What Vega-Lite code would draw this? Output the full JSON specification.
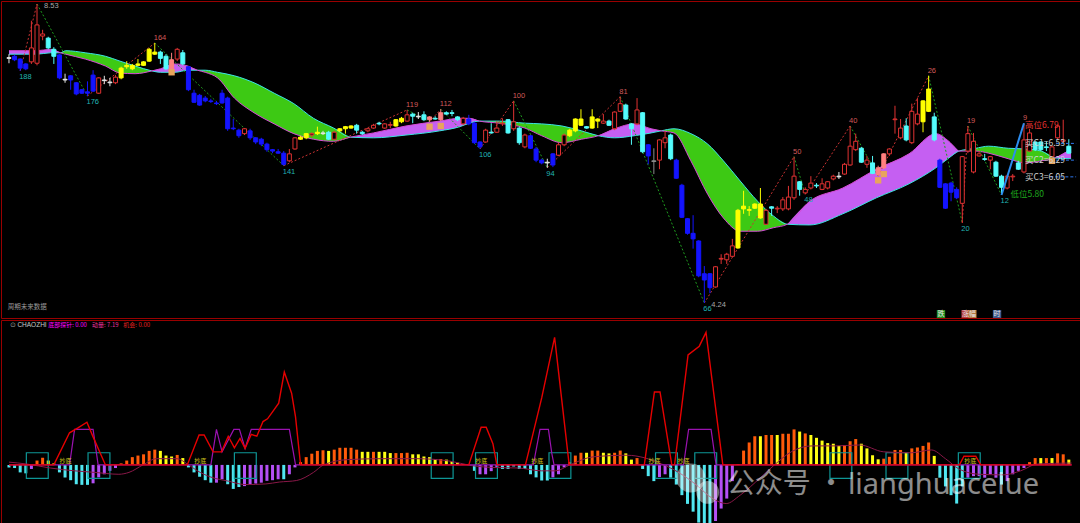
{
"$schema": "https://vega.github.io/schema/vega-lite/v6.json",
"background": "#000000",
"padding": 0,
"spacing": 0,
"config": {"view": {"stroke": "#990000", "strokeWidth": 1}},
"datasets": {
"one": [{}],
"candles": [
{"k":0,"o":7.76,"h":7.81,"l":7.68,"c":7.75,"t":"wh"},{"k":1,"o":7.78,"h":7.8,"l":7.71,"c":7.73,"t":"bl"},{"k":2,"o":7.74,"h":7.75,"l":7.57,"c":7.61,"t":"bl"},{"k":3,"o":7.67,"h":7.68,"l":7.58,"c":7.6,"t":"bl"},{"k":4,"o":7.7,"h":8.29,"l":7.67,"c":7.9,"t":"up"},{"k":5,"o":7.68,"h":8.53,"l":7.65,"c":8.23,"t":"up"},{"k":6,"o":8.07,"h":8.16,"l":8.01,"c":8.1,"t":"up"},{"k":7,"o":8.04,"h":8.06,"l":7.88,"c":7.9,"t":"cy"},{"k":8,"o":7.88,"h":7.91,"l":7.67,"c":7.78,"t":"cy"},{"k":9,"o":7.8,"h":7.81,"l":7.45,"c":7.47,"t":"bl"},
{"k":10,"o":7.45,"h":7.53,"l":7.4,"c":7.44,"t":"wh"},{"k":11,"o":7.5,"h":7.51,"l":7.3,"c":7.44,"t":"bl"},{"k":12,"o":7.4,"h":7.41,"l":7.22,"c":7.24,"t":"bl"},{"k":13,"o":7.3,"h":7.31,"l":7.24,"c":7.25,"t":"bl"},{"k":14,"o":7.27,"h":7.42,"l":7.21,"c":7.25,"t":"bl"},{"k":15,"o":7.51,"h":7.58,"l":7.27,"c":7.28,"t":"bl"},{"k":16,"o":7.25,"h":7.48,"l":7.24,"c":7.47,"t":"up"},{"k":17,"o":7.44,"h":7.5,"l":7.38,"c":7.43,"t":"wh"},{"k":18,"o":7.41,"h":7.47,"l":7.35,"c":7.4,"t":"wh"},{"k":19,"o":7.4,"h":7.51,"l":7.38,"c":7.48,"t":"up"},
{"k":20,"o":7.47,"h":7.63,"l":7.45,"c":7.61,"t":"ye"},{"k":21,"o":7.63,"h":7.71,"l":7.6,"c":7.65,"t":"ye"},{"k":22,"o":7.6,"h":7.67,"l":7.58,"c":7.65,"t":"ye"},{"k":23,"o":7.65,"h":7.74,"l":7.64,"c":7.67,"t":"ye"},{"k":24,"o":7.65,"h":7.71,"l":7.64,"c":7.7,"t":"ye"},{"k":25,"o":7.71,"h":7.9,"l":7.7,"c":7.88,"t":"ye"},{"k":26,"o":7.81,"h":7.97,"l":7.8,"c":7.84,"t":"ye"},{"k":27,"o":7.84,"h":7.86,"l":7.67,"c":7.75,"t":"cy"},{"k":28,"o":7.78,"h":7.81,"l":7.58,"c":7.6,"t":"cy"},{"k":29,"o":7.6,"h":7.83,"l":7.57,"c":7.73,"t":"pk"},
{"k":30,"o":7.74,"h":7.9,"l":7.71,"c":7.88,"t":"up"},{"k":31,"o":7.83,"h":7.87,"l":7.65,"c":7.67,"t":"cy"},{"k":32,"o":7.63,"h":7.64,"l":7.28,"c":7.3,"t":"bl"},{"k":33,"o":7.25,"h":7.3,"l":7.11,"c":7.12,"t":"bl"},{"k":34,"o":7.22,"h":7.24,"l":7.07,"c":7.08,"t":"bl"},{"k":35,"o":7.18,"h":7.21,"l":7.12,"c":7.14,"t":"bl"},{"k":36,"o":7.14,"h":7.17,"l":7.11,"c":7.13,"t":"bl"},{"k":37,"o":7.11,"h":7.14,"l":7.08,"c":7.1,"t":"bl"},{"k":38,"o":7.25,"h":7.3,"l":7.1,"c":7.11,"t":"bl"},{"k":39,"o":7.18,"h":7.2,"l":6.71,"c":6.74,"t":"bl"},
{"k":40,"o":6.75,"h":6.88,"l":6.72,"c":6.74,"t":"bl"},{"k":41,"o":6.72,"h":6.74,"l":6.61,"c":6.64,"t":"bl"},{"k":42,"o":6.67,"h":6.75,"l":6.65,"c":6.74,"t":"up"},{"k":43,"o":6.71,"h":6.74,"l":6.58,"c":6.61,"t":"bl"},{"k":44,"o":6.61,"h":6.62,"l":6.52,"c":6.55,"t":"bl"},{"k":45,"o":6.59,"h":6.61,"l":6.49,"c":6.52,"t":"bl"},{"k":46,"o":6.52,"h":6.54,"l":6.41,"c":6.44,"t":"bl"},{"k":47,"o":6.44,"h":6.45,"l":6.39,"c":6.42,"t":"bl"},{"k":48,"o":6.41,"h":6.45,"l":6.38,"c":6.39,"t":"bl"},{"k":49,"o":6.39,"h":6.42,"l":6.21,"c":6.23,"t":"bl"},
{"k":50,"o":6.28,"h":6.45,"l":6.26,"c":6.38,"t":"up"},{"k":51,"o":6.45,"h":6.62,"l":6.44,"c":6.61,"t":"up"},{"k":52,"o":6.59,"h":6.64,"l":6.58,"c":6.62,"t":"ye"},{"k":53,"o":6.61,"h":6.68,"l":6.59,"c":6.67,"t":"ye"},{"k":54,"o":6.65,"h":6.69,"l":6.62,"c":6.67,"t":"up"},{"k":55,"o":6.67,"h":6.77,"l":6.65,"c":6.69,"t":"ye"},{"k":56,"o":6.68,"h":6.71,"l":6.65,"c":6.67,"t":"wh"},{"k":57,"o":6.69,"h":6.71,"l":6.58,"c":6.59,"t":"cy"},{"k":58,"o":6.59,"h":6.71,"l":6.58,"c":6.69,"t":"up"},{"k":59,"o":6.71,"h":6.75,"l":6.69,"c":6.74,"t":"ye"},
{"k":60,"o":6.74,"h":6.78,"l":6.67,"c":6.77,"t":"ye"},{"k":61,"o":6.75,"h":6.79,"l":6.74,"c":6.78,"t":"ye"},{"k":62,"o":6.79,"h":6.81,"l":6.67,"c":6.72,"t":"cy"},{"k":63,"o":6.69,"h":6.71,"l":6.65,"c":6.67,"t":"cy"},{"k":64,"o":6.71,"h":6.75,"l":6.69,"c":6.74,"t":"up"},{"k":65,"o":6.75,"h":6.81,"l":6.74,"c":6.79,"t":"up"},{"k":66,"o":6.82,"h":6.84,"l":6.79,"c":6.81,"t":"cy"},{"k":67,"o":6.75,"h":6.82,"l":6.74,"c":6.81,"t":"up"},{"k":68,"o":6.79,"h":6.84,"l":6.75,"c":6.8,"t":"up"},{"k":69,"o":6.78,"h":6.88,"l":6.77,"c":6.87,"t":"ye"},
{"k":70,"o":6.84,"h":6.91,"l":6.82,"c":6.89,"t":"ye"},{"k":71,"o":6.85,"h":7.01,"l":6.84,"c":6.94,"t":"up"},{"k":72,"o":6.95,"h":6.97,"l":6.82,"c":6.92,"t":"cy"},{"k":73,"o":6.92,"h":6.98,"l":6.88,"c":6.91,"t":"wh"},{"k":74,"o":6.94,"h":6.99,"l":6.85,"c":6.87,"t":"cy"},{"k":75,"o":6.87,"h":6.92,"l":6.84,"c":6.91,"t":"pk"},{"k":76,"o":6.89,"h":6.92,"l":6.87,"c":6.88,"t":"cy"},{"k":77,"o":6.87,"h":7.02,"l":6.85,"c":6.97,"t":"pk"},{"k":78,"o":6.97,"h":6.99,"l":6.94,"c":6.95,"t":"cy"},{"k":79,"o":6.97,"h":7.01,"l":6.92,"c":6.96,"t":"cy"},
{"k":80,"o":6.91,"h":6.92,"l":6.85,"c":6.87,"t":"cy"},{"k":81,"o":6.81,"h":6.91,"l":6.79,"c":6.89,"t":"up"},{"k":82,"o":6.88,"h":6.94,"l":6.79,"c":6.81,"t":"bl"},{"k":83,"o":6.82,"h":6.84,"l":6.52,"c":6.54,"t":"bl"},{"k":84,"o":6.55,"h":6.56,"l":6.45,"c":6.48,"t":"bl"},{"k":85,"o":6.55,"h":6.74,"l":6.54,"c":6.72,"t":"up"},{"k":86,"o":6.69,"h":6.82,"l":6.67,"c":6.68,"t":"cy"},{"k":87,"o":6.69,"h":6.85,"l":6.68,"c":6.75,"t":"up"},{"k":88,"o":6.81,"h":6.89,"l":6.78,"c":6.82,"t":"up"},{"k":89,"o":6.87,"h":6.88,"l":6.67,"c":6.68,"t":"cy"},
{"k":90,"o":6.74,"h":7.14,"l":6.71,"c":6.84,"t":"up"},{"k":91,"o":6.75,"h":6.77,"l":6.51,"c":6.54,"t":"cy"},{"k":92,"o":6.48,"h":6.67,"l":6.46,"c":6.65,"t":"up"},{"k":93,"o":6.64,"h":6.65,"l":6.45,"c":6.46,"t":"bl"},{"k":94,"o":6.45,"h":6.48,"l":6.26,"c":6.29,"t":"bl"},{"k":95,"o":6.29,"h":6.31,"l":6.23,"c":6.25,"t":"bl"},{"k":96,"o":6.26,"h":6.31,"l":6.18,"c":6.25,"t":"wh"},{"k":97,"o":6.38,"h":6.39,"l":6.19,"c":6.22,"t":"bl"},{"k":98,"o":6.36,"h":6.54,"l":6.35,"c":6.51,"t":"up"},{"k":99,"o":6.51,"h":6.67,"l":6.49,"c":6.65,"t":"up"},
{"k":100,"o":6.64,"h":6.74,"l":6.62,"c":6.72,"t":"ye"},{"k":101,"o":6.71,"h":6.89,"l":6.69,"c":6.88,"t":"ye"},{"k":102,"o":6.79,"h":7.02,"l":6.78,"c":6.88,"t":"ye"},{"k":103,"o":6.77,"h":6.78,"l":6.74,"c":6.75,"t":"cy"},{"k":104,"o":6.75,"h":7.02,"l":6.74,"c":6.91,"t":"ye"},{"k":105,"o":6.85,"h":6.89,"l":6.75,"c":6.88,"t":"ye"},{"k":106,"o":6.82,"h":6.95,"l":6.81,"c":6.85,"t":"up"},{"k":107,"o":6.85,"h":6.87,"l":6.78,"c":6.79,"t":"cy"},{"k":108,"o":6.74,"h":6.99,"l":6.72,"c":6.98,"t":"up"},{"k":109,"o":6.99,"h":7.2,"l":6.98,"c":7.1,"t":"up"},
{"k":110,"o":7.08,"h":7.1,"l":6.87,"c":6.88,"t":"cy"},{"k":111,"o":6.81,"h":6.82,"l":6.51,"c":6.74,"t":"cy"},{"k":112,"o":6.81,"h":7.18,"l":6.79,"c":7.01,"t":"up"},{"k":113,"o":6.97,"h":6.98,"l":6.39,"c":6.41,"t":"cy"},{"k":114,"o":6.51,"h":6.52,"l":6.23,"c":6.35,"t":"bl"},{"k":115,"o":6.28,"h":6.46,"l":6.09,"c":6.27,"t":"gr"},{"k":116,"o":6.29,"h":6.59,"l":6.16,"c":6.58,"t":"up"},{"k":117,"o":6.54,"h":6.71,"l":6.46,"c":6.61,"t":"up"},{"k":118,"o":6.65,"h":6.67,"l":6.29,"c":6.31,"t":"cy"},{"k":119,"o":6.29,"h":6.31,"l":6.02,"c":6.03,"t":"bl"},
{"k":120,"o":5.93,"h":5.95,"l":5.46,"c":5.47,"t":"bl"},{"k":121,"o":5.45,"h":5.46,"l":5.22,"c":5.24,"t":"bl"},{"k":122,"o":5.24,"h":5.5,"l":5.02,"c":5.16,"t":"bl"},{"k":123,"o":5.13,"h":5.14,"l":4.61,"c":4.63,"t":"bl"},{"k":124,"o":4.66,"h":4.77,"l":4.24,"c":4.57,"t":"bl"},{"k":125,"o":4.66,"h":4.67,"l":4.38,"c":4.46,"t":"bl"},{"k":126,"o":4.47,"h":4.77,"l":4.46,"c":4.76,"t":"up"},{"k":127,"o":4.87,"h":4.94,"l":4.8,"c":4.88,"t":"up"},{"k":128,"o":4.86,"h":4.96,"l":4.8,"c":4.94,"t":"up"},{"k":129,"o":4.91,"h":5.16,"l":4.9,"c":5.06,"t":"up"},
{"k":130,"o":5.03,"h":5.59,"l":5.02,"c":5.57,"t":"ye"},{"k":131,"o":5.59,"h":5.85,"l":5.52,"c":5.63,"t":"ye"},{"k":132,"o":5.57,"h":5.63,"l":5.49,"c":5.58,"t":"ye"},{"k":133,"o":5.6,"h":5.67,"l":5.59,"c":5.66,"t":"ye"},{"k":134,"o":5.46,"h":5.89,"l":5.45,"c":5.66,"t":"ye"},{"k":135,"o":5.37,"h":5.59,"l":5.36,"c":5.57,"t":"up"},{"k":136,"o":5.62,"h":5.63,"l":5.49,"c":5.6,"t":"cy"},{"k":137,"o":5.59,"h":5.63,"l":5.53,"c":5.6,"t":"up"},{"k":138,"o":5.59,"h":5.76,"l":5.56,"c":5.72,"t":"up"},{"k":139,"o":5.59,"h":5.92,"l":5.57,"c":5.76,"t":"up"},
{"k":140,"o":5.75,"h":6.34,"l":5.72,"c":6.06,"t":"up"},{"k":141,"o":5.98,"h":5.99,"l":5.78,"c":5.87,"t":"cy"},{"k":142,"o":5.82,"h":5.9,"l":5.8,"c":5.87,"t":"up"},{"k":143,"o":5.89,"h":6.06,"l":5.87,"c":5.96,"t":"up"},{"k":144,"o":5.93,"h":5.96,"l":5.89,"c":5.92,"t":"cy"},{"k":145,"o":5.87,"h":6.03,"l":5.86,"c":5.95,"t":"up"},{"k":146,"o":5.89,"h":5.99,"l":5.87,"c":5.98,"t":"up"},{"k":147,"o":6.02,"h":6.08,"l":6.0,"c":6.06,"t":"up"},{"k":148,"o":6.06,"h":6.12,"l":6.02,"c":6.05,"t":"wh"},{"k":149,"o":6.09,"h":6.25,"l":6.08,"c":6.23,"t":"up"},
{"k":150,"o":6.22,"h":6.78,"l":6.21,"c":6.49,"t":"up"},{"k":151,"o":6.44,"h":6.67,"l":6.42,"c":6.56,"t":"up"},{"k":152,"o":6.46,"h":6.48,"l":6.25,"c":6.26,"t":"cy"},{"k":153,"o":6.23,"h":6.35,"l":6.18,"c":6.29,"t":"up"},{"k":154,"o":6.25,"h":6.35,"l":6.09,"c":6.1,"t":"cy"},{"k":155,"o":6.08,"h":6.21,"l":6.06,"c":6.18,"t":"pk"},{"k":156,"o":6.18,"h":6.39,"l":6.16,"c":6.38,"t":"pk"},{"k":157,"o":6.38,"h":6.46,"l":6.35,"c":6.45,"t":"up"},{"k":158,"o":6.87,"h":7.07,"l":6.67,"c":6.88,"t":"up"},{"k":159,"o":6.61,"h":6.88,"l":6.59,"c":6.75,"t":"up"},
{"k":160,"o":6.78,"h":6.89,"l":6.56,"c":6.58,"t":"cy"},{"k":161,"o":6.54,"h":7.1,"l":6.52,"c":6.99,"t":"up"},{"k":162,"o":6.81,"h":7.18,"l":6.79,"c":6.95,"t":"up"},{"k":163,"o":6.84,"h":7.15,"l":6.69,"c":7.14,"t":"ye"},{"k":164,"o":6.99,"h":7.5,"l":6.98,"c":7.31,"t":"ye"},{"k":165,"o":6.91,"h":6.97,"l":6.56,"c":6.58,"t":"cy"},{"k":166,"o":6.29,"h":6.31,"l":5.89,"c":5.9,"t":"bl"},{"k":167,"o":5.95,"h":5.96,"l":5.59,"c":5.6,"t":"bl"},{"k":168,"o":5.96,"h":5.98,"l":5.7,"c":5.83,"t":"bl"},{"k":169,"o":5.87,"h":5.9,"l":5.73,"c":5.75,"t":"bl"},
{"k":170,"o":5.67,"h":6.35,"l":5.39,"c":6.34,"t":"up"},{"k":171,"o":6.42,"h":6.78,"l":6.39,"c":6.67,"t":"up"},{"k":172,"o":6.12,"h":6.68,"l":6.1,"c":6.56,"t":"up"},{"k":173,"o":6.35,"h":6.42,"l":6.34,"c":6.38,"t":"up"},{"k":174,"o":6.31,"h":6.38,"l":6.28,"c":6.3,"t":"cy"},{"k":175,"o":6.29,"h":6.35,"l":6.16,"c":6.34,"t":"up"},{"k":176,"o":6.26,"h":6.28,"l":6.05,"c":6.06,"t":"cy"},{"k":177,"o":6.06,"h":6.08,"l":5.79,"c":5.9,"t":"cy"},{"k":178,"o":5.89,"h":6.08,"l":5.87,"c":6.06,"t":"up"},{"k":179,"o":6.05,"h":6.09,"l":5.99,"c":6.06,"t":"up"},
{"k":180,"o":6.25,"h":6.28,"l":6.15,"c":6.16,"t":"cy"},{"k":181,"o":6.12,"h":6.82,"l":6.1,"c":6.58,"t":"up"},{"k":182,"o":6.42,"h":6.74,"l":6.41,"c":6.68,"t":"up"},{"k":183,"o":6.55,"h":6.56,"l":6.42,"c":6.44,"t":"cy"},{"k":184,"o":6.55,"h":6.56,"l":6.42,"c":6.44,"t":"cy"},{"k":185,"o":6.48,"h":6.56,"l":6.42,"c":6.47,"t":"cy"},{"k":186,"o":6.34,"h":6.49,"l":6.25,"c":6.48,"t":"up"},{"k":187,"o":6.61,"h":6.79,"l":6.59,"c":6.78,"t":"up"},{"k":188,"o":6.56,"h":6.87,"l":6.55,"c":6.58,"t":"up"},{"k":189,"o":6.49,"h":6.59,"l":6.38,"c":6.39,"t":"cy"}
],
"band": [
{"k":0,"a":7.81,"b":7.86,"s":1,"c":"p"},{"k":5,"a":7.81,"b":7.86,"s":1,"c":"p"},{"k":7.4,"a":7.83,"b":7.88,"s":1,"c":"p"},{"k":9.2,"a":7.83,"b":7.83,"s":1,"c":"p"},
{"k":9.2,"a":7.83,"b":7.83,"s":2,"c":"g","dup":1},{"k":10.1,"a":7.86,"b":7.81,"s":2,"c":"g"},{"k":13.6,"a":7.83,"b":7.74,"s":2,"c":"g"},{"k":17.2,"a":7.78,"b":7.64,"s":2,"c":"g"},{"k":19.8,"a":7.71,"b":7.54,"s":2,"c":"g"},{"k":22.5,"a":7.64,"b":7.53,"s":2,"c":"g"},{"k":25.5,"a":7.57,"b":7.57,"s":2,"c":"g"},
{"k":25.5,"a":7.57,"b":7.57,"s":3,"c":"p","dup":1},{"k":27,"a":7.55,"b":7.6,"s":3,"c":"p"},{"k":29.6,"a":7.55,"b":7.67,"s":3,"c":"p"},{"k":31.9,"a":7.58,"b":7.64,"s":3,"c":"p"},{"k":33.6,"a":7.58,"b":7.58,"s":3,"c":"p"},
{"k":33.6,"a":7.58,"b":7.58,"s":4,"c":"g","dup":1},{"k":35,"a":7.58,"b":7.55,"s":4,"c":"g"},{"k":37.2,"a":7.55,"b":7.47,"s":4,"c":"g"},{"k":40.2,"a":7.5,"b":7.18,"s":4,"c":"g"},{"k":43.7,"a":7.4,"b":6.97,"s":4,"c":"g"},{"k":47.3,"a":7.25,"b":6.81,"s":4,"c":"g"},{"k":50.8,"a":7.1,"b":6.67,"s":4,"c":"g"},{"k":54.3,"a":6.89,"b":6.59,"s":4,"c":"g"},{"k":57.9,"a":6.75,"b":6.56,"s":4,"c":"g"},{"k":60.9,"a":6.62,"b":6.62,"s":4,"c":"g"},
{"k":60.9,"a":6.62,"b":6.62,"s":5,"c":"p","dup":1},{"k":65,"a":6.61,"b":6.68,"s":5,"c":"p"},{"k":70.8,"a":6.65,"b":6.78,"s":5,"c":"p"},{"k":76.8,"a":6.71,"b":6.85,"s":5,"c":"p"},{"k":80.4,"a":6.77,"b":6.89,"s":5,"c":"p"},{"k":82.1,"a":6.82,"b":6.89,"s":5,"c":"p"},{"k":83.9,"a":6.85,"b":6.85,"s":5,"c":"p"},
{"k":83.9,"a":6.85,"b":6.85,"s":6,"c":"g","dup":1},{"k":87.4,"a":6.85,"b":6.82,"s":6,"c":"g"},{"k":92,"a":6.82,"b":6.75,"s":6,"c":"g"},{"k":95,"a":6.81,"b":6.64,"s":6,"c":"g"},{"k":98.6,"a":6.78,"b":6.54,"s":6,"c":"g"},{"k":102.1,"a":6.71,"b":6.59,"s":6,"c":"g"},{"k":105.1,"a":6.64,"b":6.64,"s":6,"c":"g"},
{"k":105.1,"a":6.64,"b":6.64,"s":7,"c":"p","dup":1},{"k":108,"a":6.61,"b":6.74,"s":7,"c":"p"},{"k":111.5,"a":6.64,"b":6.81,"s":7,"c":"p"},{"k":114.5,"a":6.68,"b":6.74,"s":7,"c":"p"},{"k":116.3,"a":6.71,"b":6.71,"s":7,"c":"p"},
{"k":116.3,"a":6.71,"b":6.71,"s":8,"c":"g","dup":1},{"k":118.6,"a":6.74,"b":6.68,"s":8,"c":"g"},{"k":121.6,"a":6.67,"b":6.28,"s":8,"c":"g"},{"k":124.6,"a":6.52,"b":5.8,"s":8,"c":"g"},{"k":127.4,"a":6.28,"b":5.46,"s":8,"c":"g"},{"k":130.4,"a":5.99,"b":5.27,"s":8,"c":"g"},{"k":133.5,"a":5.7,"b":5.27,"s":8,"c":"g"},{"k":136.3,"a":5.49,"b":5.32,"s":8,"c":"g"},{"k":138.8,"a":5.37,"b":5.37,"s":8,"c":"g"},
{"k":138.8,"a":5.37,"b":5.37,"s":9,"c":"p","dup":1},{"k":142.8,"a":5.36,"b":5.7,"s":9,"c":"p"},{"k":148.7,"a":5.52,"b":5.89,"s":9,"c":"p"},{"k":154.7,"a":5.75,"b":6.16,"s":9,"c":"p"},{"k":160.5,"a":5.95,"b":6.38,"s":9,"c":"p"},{"k":165.3,"a":6.18,"b":6.67,"s":9,"c":"p"},{"k":167.6,"a":6.32,"b":6.56,"s":9,"c":"p"},{"k":169.4,"a":6.42,"b":6.42,"s":9,"c":"p"},
{"k":169.4,"a":6.42,"b":6.42,"s":10,"c":"g","dup":1},{"k":172.4,"a":6.46,"b":6.42,"s":10,"c":"g"},{"k":174.7,"a":6.49,"b":6.39,"s":10,"c":"g"},{"k":178.2,"a":6.46,"b":6.31,"s":10,"c":"g"},{"k":181.2,"a":6.45,"b":6.25,"s":10,"c":"g"},{"k":184.1,"a":6.42,"b":6.28,"s":10,"c":"g"},{"k":186.5,"a":6.32,"b":6.32,"s":10,"c":"g"},
{"k":186.5,"a":6.32,"b":6.32,"s":11,"c":"p","dup":1},{"k":189.4,"a":6.31,"b":6.45,"s":11,"c":"p"}
],
"zz": [
{"k1":2,"p1":7.57,"k2":5,"p2":8.53,"d":"up"},{"k1":5,"p1":8.53,"k2":14,"p2":7.21,"d":"dn"},{"k1":14,"p1":7.21,"k2":26,"p2":7.97,"d":"up"},{"k1":26,"p1":7.97,"k2":49,"p2":6.21,"d":"dn"},{"k1":49,"p1":6.21,"k2":71,"p2":7.01,"d":"up"},{"k1":71,"p1":7.01,"k2":75,"p2":6.84,"d":"dn"},{"k1":75,"p1":6.84,"k2":77,"p2":7.02,"d":"up"},{"k1":77,"p1":7.02,"k2":84,"p2":6.45,"d":"dn"},{"k1":84,"p1":6.45,"k2":90,"p2":7.14,"d":"up"},{"k1":90,"p1":7.14,"k2":96,"p2":6.18,"d":"dn"},
{"k1":96,"p1":6.18,"k2":109,"p2":7.2,"d":"up"},{"k1":109,"p1":7.2,"k2":124,"p2":4.24,"d":"dn"},{"k1":124,"p1":4.24,"k2":140,"p2":6.34,"d":"up"},{"k1":140,"p1":6.34,"k2":142,"p2":5.8,"d":"dn"},{"k1":142,"p1":5.8,"k2":150,"p2":6.78,"d":"up"},{"k1":150,"p1":6.78,"k2":155,"p2":6.06,"d":"dn"},{"k1":155,"p1":6.06,"k2":164,"p2":7.5,"d":"up"},{"k1":164,"p1":7.5,"k2":170,"p2":5.39,"d":"dn"},{"k1":170,"p1":5.39,"k2":171,"p2":6.78,"d":"up"},{"k1":171,"p1":6.78,"k2":177,"p2":5.79,"d":"dn"}
],
"piv": [
{"k":2,"p":7.57,"txt":"188","kind":"lo"},{"k":14,"p":7.21,"txt":"176","kind":"lo"},{"k":26,"p":7.97,"txt":"164","kind":"hi"},{"k":49,"p":6.21,"txt":"141","kind":"lo"},{"k":71,"p":7.01,"txt":"119","kind":"hi"},{"k":77,"p":7.02,"txt":"112","kind":"hi"},{"k":84,"p":6.45,"txt":"106","kind":"lo"},{"k":90,"p":7.14,"txt":"100","kind":"hi"},{"k":96,"p":6.18,"txt":"94","kind":"lo"},{"k":109,"p":7.2,"txt":"81","kind":"hi"},
{"k":124,"p":4.24,"txt":"66","kind":"lo"},{"k":140,"p":6.34,"txt":"50","kind":"hi"},{"k":142,"p":5.8,"txt":"48","kind":"lo"},{"k":150,"p":6.78,"txt":"40","kind":"hi"},{"k":164,"p":7.5,"txt":"26","kind":"hi"},{"k":170,"p":5.39,"txt":"20","kind":"lo"},{"k":171,"p":6.78,"txt":"19","kind":"hi"},{"k":177,"p":5.79,"txt":"12","kind":"lo"},{"k":181,"p":6.82,"txt":"9","kind":"hi"}
],
"ann": [
{"k":181.2,"p":6.79,"txt":"高位6.79","kind":"hi"},{"k":181.2,"p":6.53,"txt":"买C1=6.53","kind":"buy"},{"k":181.2,"p":6.29,"txt":"买C2=6.29","kind":"buy"},{"k":181.2,"p":6.05,"txt":"买C3=6.05","kind":"buy"},{"k":178.6,"p":5.8,"txt":"低位5.80","kind":"lo"}
],
"clines": [{"k1":186.7,"k2":190.3,"p":6.53},{"k1":186.7,"k2":190.3,"p":6.29},{"k1":185.7,"k2":190.3,"p":6.05}],
"marks": [{"k":29,"p":7.55},{"k":75,"p":6.77},{"k":77,"p":6.78},{"k":155,"p":6.0},{"k":156,"p":6.09},{"k":186,"p":6.28}],
"hist": [
{"k":0,"v":-0.8,"hc":"c"},{"k":1,"v":-1,"hc":"c"},{"k":2,"v":-2.4,"hc":"c"},{"k":3,"v":-2.7,"hc":"c"},{"k":4,"v":-1.3,"hc":"p"},{"k":5,"v":1.4,"hc":"o"},{"k":6,"v":2.3,"hc":"o"},{"k":7,"v":1.4,"hc":"y"},{"k":8,"v":0.5,"hc":"y"},{"k":9,"v":-2.4,"hc":"c"},
{"k":10,"v":-4,"hc":"c"},{"k":11,"v":-4.9,"hc":"c"},{"k":12,"v":-6.2,"hc":"c"},{"k":13,"v":-6.4,"hc":"c"},{"k":14,"v":-6.4,"hc":"c"},{"k":15,"v":-5.9,"hc":"p"},{"k":16,"v":-4,"hc":"p"},{"k":17,"v":-3,"hc":"p"},{"k":18,"v":-1.9,"hc":"p"},{"k":19,"v":-1,"hc":"p"},
{"k":20,"v":0.5,"hc":"o"},{"k":21,"v":1.4,"hc":"o"},{"k":22,"v":2.5,"hc":"o"},{"k":23,"v":3,"hc":"o"},{"k":24,"v":3.4,"hc":"o"},{"k":25,"v":4.5,"hc":"o"},{"k":26,"v":4.9,"hc":"o"},{"k":27,"v":4.5,"hc":"y"},{"k":28,"v":3,"hc":"y"},{"k":29,"v":2.7,"hc":"y"},
{"k":30,"v":3.2,"hc":"o"},{"k":31,"v":2.2,"hc":"y"},{"k":32,"v":-0.8,"hc":"c"},{"k":33,"v":-2.4,"hc":"c"},{"k":34,"v":-3.8,"hc":"c"},{"k":35,"v":-4.9,"hc":"c"},{"k":36,"v":-5.7,"hc":"c"},{"k":37,"v":-5.7,"hc":"p"},{"k":38,"v":-4.6,"hc":"p"},{"k":39,"v":-6.2,"hc":"c"},
{"k":40,"v":-7.7,"hc":"c"},{"k":41,"v":-7.1,"hc":"c"},{"k":42,"v":-6.8,"hc":"p"},{"k":43,"v":-6.2,"hc":"p"},{"k":44,"v":-6,"hc":"p"},{"k":45,"v":-5.7,"hc":"p"},{"k":46,"v":-5.1,"hc":"p"},{"k":47,"v":-4.9,"hc":"p"},{"k":48,"v":-4.6,"hc":"p"},{"k":49,"v":-4.6,"hc":"c"},
{"k":50,"v":-3,"hc":"p"},{"k":51,"v":-0.8,"hc":"p"},{"k":52,"v":0.9,"hc":"o"},{"k":53,"v":2.5,"hc":"o"},{"k":54,"v":3.6,"hc":"o"},{"k":55,"v":4.5,"hc":"o"},{"k":56,"v":4.7,"hc":"o"},{"k":57,"v":4.5,"hc":"y"},{"k":58,"v":4.9,"hc":"o"},{"k":59,"v":5.5,"hc":"o"},
{"k":60,"v":5.5,"hc":"o"},{"k":61,"v":5.5,"hc":"o"},{"k":62,"v":4.9,"hc":"o"},{"k":63,"v":4.2,"hc":"y"},{"k":64,"v":4.2,"hc":"y"},{"k":65,"v":4.2,"hc":"o"},{"k":66,"v":4.2,"hc":"y"},{"k":67,"v":4.2,"hc":"y"},{"k":68,"v":3.8,"hc":"y"},{"k":69,"v":3.8,"hc":"o"},
{"k":70,"v":3.8,"hc":"o"},{"k":71,"v":3.9,"hc":"o"},{"k":72,"v":3.4,"hc":"y"},{"k":73,"v":3.4,"hc":"y"},{"k":74,"v":2.7,"hc":"y"},{"k":75,"v":2.5,"hc":"y"},{"k":76,"v":1.9,"hc":"y"},{"k":77,"v":1.9,"hc":"o"},{"k":78,"v":1.7,"hc":"y"},{"k":79,"v":1.2,"hc":"y"},
{"k":80,"v":0.7,"hc":"y"},{"k":81,"v":0.3,"hc":"y"},{"k":82,"v":0,"hc":"y"},{"k":83,"v":-1.9,"hc":"c"},{"k":84,"v":-3,"hc":"p"},{"k":85,"v":-3,"hc":"p"},{"k":86,"v":-2,"hc":"p"},{"k":87,"v":-0.8,"hc":"p"},{"k":88,"v":-1.3,"hc":"c"},{"k":89,"v":-1.3,"hc":"c"},
{"k":90,"v":-0.5,"hc":"c"},{"k":91,"v":-1.3,"hc":"c"},{"k":92,"v":-1.3,"hc":"c"},{"k":93,"v":-3,"hc":"c"},{"k":94,"v":-4,"hc":"c"},{"k":95,"v":-5,"hc":"c"},{"k":96,"v":-5,"hc":"c"},{"k":97,"v":-4,"hc":"p"},{"k":98,"v":-3,"hc":"p"},{"k":99,"v":-0.8,"hc":"p"},
{"k":100,"v":0.9,"hc":"o"},{"k":101,"v":3,"hc":"o"},{"k":102,"v":3.9,"hc":"o"},{"k":103,"v":3.9,"hc":"y"},{"k":104,"v":4.6,"hc":"o"},{"k":105,"v":4.6,"hc":"o"},{"k":106,"v":3.9,"hc":"y"},{"k":107,"v":3.7,"hc":"y"},{"k":108,"v":3.9,"hc":"o"},{"k":109,"v":4.6,"hc":"o"},
{"k":110,"v":3.7,"hc":"y"},{"k":111,"v":1.7,"hc":"y"},{"k":112,"v":2.2,"hc":"o"},{"k":113,"v":-1.3,"hc":"c"},{"k":114,"v":-3.6,"hc":"c"},{"k":115,"v":-5.2,"hc":"c"},{"k":116,"v":-3.9,"hc":"p"},{"k":117,"v":-3,"hc":"p"},{"k":118,"v":-4.1,"hc":"c"},{"k":119,"v":-6.3,"hc":"c"},
{"k":120,"v":-9.7,"hc":"c"},{"k":121,"v":-12.5,"hc":"c"},{"k":122,"v":-15,"hc":"c"},{"k":123,"v":-18.5,"hc":"c"},{"k":124,"v":-19.5,"hc":"c"},{"k":125,"v":-19.5,"hc":"c"},{"k":126,"v":-18,"hc":"p"},{"k":127,"v":-14,"hc":"p"},{"k":128,"v":-10.8,"hc":"p"},{"k":129,"v":-5.2,"hc":"p"},
{"k":130,"v":0.3,"hc":"o"},{"k":131,"v":4.6,"hc":"o"},{"k":132,"v":7.2,"hc":"o"},{"k":133,"v":9.2,"hc":"o"},{"k":134,"v":9.2,"hc":"y"},{"k":135,"v":9.6,"hc":"o"},{"k":136,"v":9.6,"hc":"o"},{"k":137,"v":9.6,"hc":"y"},{"k":138,"v":10,"hc":"o"},{"k":139,"v":10,"hc":"o"},
{"k":140,"v":11.4,"hc":"o"},{"k":141,"v":10.7,"hc":"y"},{"k":142,"v":10.1,"hc":"o"},{"k":143,"v":9.6,"hc":"y"},{"k":144,"v":8.7,"hc":"y"},{"k":145,"v":7.8,"hc":"y"},{"k":146,"v":7,"hc":"y"},{"k":147,"v":6.8,"hc":"y"},{"k":148,"v":6.1,"hc":"y"},{"k":149,"v":6.4,"hc":"o"},
{"k":150,"v":7.6,"hc":"o"},{"k":151,"v":8.3,"hc":"o"},{"k":152,"v":6.8,"hc":"y"},{"k":153,"v":5.3,"hc":"y"},{"k":154,"v":3.1,"hc":"y"},{"k":155,"v":1.8,"hc":"y"},{"k":156,"v":2,"hc":"o"},{"k":157,"v":2.6,"hc":"o"},{"k":158,"v":4.8,"hc":"o"},{"k":159,"v":4.8,"hc":"o"},
{"k":160,"v":3.9,"hc":"y"},{"k":161,"v":5.3,"hc":"o"},{"k":162,"v":5.6,"hc":"o"},{"k":163,"v":6.1,"hc":"o"},{"k":164,"v":7.2,"hc":"o"},{"k":165,"v":2.9,"hc":"y"},{"k":166,"v":-4.1,"hc":"c"},{"k":167,"v":-6.9,"hc":"c"},{"k":168,"v":-9.7,"hc":"c"},{"k":169,"v":-12.4,"hc":"c"},
{"k":170,"v":-6.9,"hc":"c"},{"k":171,"v":-4.1,"hc":"p"},{"k":172,"v":-3.6,"hc":"p"},{"k":173,"v":-3.6,"hc":"p"},{"k":174,"v":-4.1,"hc":"p"},{"k":175,"v":-3,"hc":"p"},{"k":176,"v":-4.1,"hc":"p"},{"k":177,"v":-6.3,"hc":"c"},{"k":178,"v":-5.2,"hc":"p"},{"k":179,"v":-3,"hc":"p"},
{"k":180,"v":-1.9,"hc":"p"},{"k":181,"v":-1,"hc":"p"},{"k":182,"v":0.9,"hc":"o"},{"k":183,"v":2.2,"hc":"o"},{"k":184,"v":2.2,"hc":"y"},{"k":185,"v":2.2,"hc":"o"},{"k":186,"v":2.2,"hc":"y"},{"k":187,"v":3.7,"hc":"o"},{"k":188,"v":3.4,"hc":"o"},{"k":189,"v":1.7,"hc":"y"}
],
"red": [
{"k":0,"v":0},{"k":8,"v":0},{"k":10.8,"v":10.3},{"k":12.3,"v":11.9},{"k":13.9,"v":13.7},{"k":15,"v":9},{"k":17.2,"v":0},{"k":31.8,"v":0},{"k":33.9,"v":9.6},{"k":34.8,"v":9.6},{"k":36.4,"v":4.2},{"k":37.9,"v":4.2},{"k":39.1,"v":9.2},{"k":40.2,"v":5.5},{"k":41.2,"v":8.5},{"k":42.1,"v":5.3},{"k":43.2,"v":9.8},{"k":44.2,"v":9.2},{"k":45.3,"v":13.9},{"k":46.1,"v":14.8},{"k":47,"v":17},{"k":48.1,"v":19.8},{"k":49.1,"v":29.8},{"k":50.4,"v":23},{"k":51.1,"v":15.4},{"k":52,"v":0},
{"k":82,"v":0},{"k":84.2,"v":12.1},{"k":85.1,"v":12.1},{"k":86.3,"v":6.8},{"k":87,"v":0},{"k":92.1,"v":0},{"k":95,"v":21.5},{"k":97.3,"v":40.9},{"k":99.9,"v":0},{"k":113.3,"v":0},{"k":115.1,"v":23.4},{"k":116.1,"v":23.4},{"k":118.2,"v":0},{"k":118.7,"v":0},{"k":121.1,"v":35.3},{"k":123.1,"v":38.1},{"k":124.3,"v":42.5},{"k":127.3,"v":0},{"k":169.5,"v":0},{"k":170.3,"v":2.8},{"k":172.4,"v":2.8},{"k":173.3,"v":0},{"k":189.5,"v":0}
],
"pur": [
{"k":0,"v":0},{"k":10.8,"v":0},{"k":11.7,"v":11.4},{"k":15,"v":11.4},{"k":15.9,"v":0},{"k":36,"v":0},{"k":37,"v":11.4},{"k":38,"v":4.2},{"k":40.1,"v":11.4},{"k":41.1,"v":11.4},{"k":42.1,"v":5.3},{"k":43.2,"v":11.4},{"k":50,"v":11.4},{"k":51.1,"v":0},{"k":93.5,"v":0},{"k":94.7,"v":11.4},{"k":96.2,"v":11.4},{"k":96.8,"v":3.7},{"k":97.2,"v":0},{"k":120.3,"v":0},{"k":121.2,"v":11.4},{"k":125.2,"v":11.4},{"k":126.1,"v":0},{"k":189.5,"v":0}
],
"mar": [
{"k":0,"v":0.9},{"k":3.1,"v":0.3},{"k":7.4,"v":-1},{"k":11.7,"v":-1.9},{"k":15.3,"v":-2.4},{"k":19.6,"v":-3},{"k":21.4,"v":-2.4},{"k":23.9,"v":0},{"k":26.3,"v":2},{"k":30,"v":2},{"k":31.8,"v":0.3},{"k":33.6,"v":-1.9},{"k":36,"v":-3.9},{"k":39.1,"v":-5.2},{"k":42.1,"v":-6.3},{"k":45.8,"v":-6.1},{"k":48.2,"v":-5.5},{"k":51.3,"v":-5},{"k":54.3,"v":-2.4},{"k":56.1,"v":0},{"k":60.4,"v":1.7},{"k":66.5,"v":2},{"k":72.6,"v":2},{"k":78.7,"v":1.2},{"k":82.4,"v":-0.2},{"k":86,"v":-0.8},{"k":90.9,"v":-1},{"k":95,"v":-1.9},{"k":97.5,"v":-1.9},{"k":100,"v":0},
{"k":104.2,"v":2.6},{"k":110.3,"v":3.1},{"k":113.3,"v":2.3},{"k":116.4,"v":0.3},{"k":119.4,"v":-2.4},{"k":122.5,"v":-6.3},{"k":125.5,"v":-10.8},{"k":127.9,"v":-12.4},{"k":130.4,"v":-9.7},{"k":134,"v":-4.1},{"k":136.5,"v":0},{"k":139.5,"v":4.2},{"k":143.2,"v":6.1},{"k":147.4,"v":6.1},{"k":151.7,"v":6.4},{"k":156,"v":4.2},{"k":160.9,"v":3.9},{"k":164.5,"v":4.8},{"k":167,"v":2},{"k":169.4,"v":-1.3},{"k":173,"v":-3},{"k":177.3,"v":-3.2},{"k":180.4,"v":-1.9},{"k":183.4,"v":0.3},{"k":189.5,"v":0.6}
],
"boxes": [{"k1":3.1,"k2":7.0},{"k1":14.1,"k2":18.0},{"k1":40.2,"k2":44.1},{"k1":75.3,"k2":79.2},{"k1":83.2,"k2":87.1},{"k1":96.3,"k2":100.2},{"k1":115.3,"k2":119.2},{"k1":122.3,"k2":126.2},{"k1":146.4,"k2":150.3},{"k1":156.4,"k2":160.3},{"k1":169.3,"k2":173.2}],
"cd": [{"k":10.1},{"k":34.1},{"k":84.2},{"k":94.2},{"k":115.1},{"k":120.3},{"k":171.4}]
},
"vconcat": [
{
"width": 1080, "height": 317,
"resolve": {"scale": {"fill": "independent", "stroke": "independent", "color": "independent"}},
"layer": [
{"data": {"name": "band"}, "mark": {"type": "area", "interpolate": "monotone", "clip": true},
 "encoding": {"x": {"field": "k", "type": "quantitative", "scale": {"domain": [-0.53, 190.28], "nice": false, "zero": false}, "axis": null},
  "y": {"field": "a", "type": "quantitative", "scale": {"domain": [4.025, 8.573], "nice": false, "zero": false}, "axis": {"values": [4.46, 4.97, 5.48, 5.99, 6.5, 7.01, 7.51, 8.02, 8.53], "grid": true, "gridDash": [1, 3], "gridColor": "#8B0000", "gridWidth": 1, "labels": false, "ticks": false, "domain": false, "title": null, "minExtent": 0, "maxExtent": 0}},
  "y2": {"field": "b"},
  "fill": {"field": "c", "type": "nominal", "scale": {"domain": ["g", "p"], "range": ["#3DC914", "#C55FF2"]}, "legend": null},
  "detail": {"field": "s", "type": "nominal"}}},
{"data": {"name": "band"}, "transform": [{"filter": "!datum.dup"}], "mark": {"type": "line", "interpolate": "monotone", "stroke": "#3BE3E3", "strokeWidth": 1, "clip": true},
 "encoding": {"x": {"field": "k", "type": "quantitative", "scale": {"domain": [-0.53, 190.28], "nice": false, "zero": false}, "axis": null},
  "y": {"field": "a", "type": "quantitative", "scale": {"domain": [4.025, 8.573], "nice": false, "zero": false}, "axis": null}}},
{"data": {"name": "band"}, "transform": [{"filter": "!datum.dup"}], "mark": {"type": "line", "interpolate": "monotone", "stroke": "#D64AD6", "strokeWidth": 1, "clip": true},
 "encoding": {"x": {"field": "k", "type": "quantitative", "scale": {"domain": [-0.53, 190.28], "nice": false, "zero": false}, "axis": null},
  "y": {"field": "b", "type": "quantitative", "scale": {"domain": [4.025, 8.573], "nice": false, "zero": false}, "axis": null}}},
{"data": {"name": "zz"}, "mark": {"type": "rule", "strokeDash": [2, 2], "strokeWidth": 1, "clip": true},
 "encoding": {"x": {"field": "k1", "type": "quantitative", "scale": {"domain": [-0.53, 190.28], "nice": false, "zero": false}, "axis": null}, "x2": {"field": "k2"},
  "y": {"field": "p1", "type": "quantitative", "scale": {"domain": [4.025, 8.573], "nice": false, "zero": false}, "axis": null}, "y2": {"field": "p2"},
  "stroke": {"field": "d", "type": "nominal", "scale": {"domain": ["up", "dn"], "range": ["#C83232", "#1E9B1E"]}, "legend": null}}},
{"data": {"name": "candles"}, "mark": {"type": "rule", "strokeWidth": 1, "clip": true},
 "encoding": {"x": {"field": "k", "type": "quantitative", "scale": {"domain": [-0.53, 190.28], "nice": false, "zero": false}, "axis": null},
  "y": {"field": "l", "type": "quantitative", "scale": {"domain": [4.025, 8.573], "nice": false, "zero": false}, "axis": null}, "y2": {"field": "h"},
  "stroke": {"field": "t", "type": "nominal", "scale": {"domain": ["up", "cy", "bl", "ye", "pk", "wh", "gr"], "range": ["#E03232", "#54FCFC", "#1414FF", "#FFFF00", "#FF8080", "#E6E6E6", "#8C8C8C"]}, "legend": null}}},
{"data": {"name": "candles"}, "mark": {"type": "bar", "size": 4, "strokeWidth": 1, "clip": true},
 "encoding": {"x": {"field": "k", "type": "quantitative", "scale": {"domain": [-0.53, 190.28], "nice": false, "zero": false}, "axis": null},
  "y": {"field": "o", "type": "quantitative", "scale": {"domain": [4.025, 8.573], "nice": false, "zero": false}, "axis": null}, "y2": {"field": "c"},
  "fill": {"field": "t", "type": "nominal", "scale": {"domain": ["up", "cy", "bl", "ye", "pk", "wh", "gr"], "range": ["#000000", "#54FCFC", "#1414FF", "#FFFF00", "#FF8080", "#E6E6E6", "#8C8C8C"]}, "legend": null},
  "stroke": {"field": "t", "type": "nominal", "scale": {"domain": ["up", "cy", "bl", "ye", "pk", "wh", "gr"], "range": ["#E03232", "#54FCFC", "#1414FF", "#FFFF00", "#FF8080", "#E6E6E6", "#8C8C8C"]}, "legend": null}}},
{"data": {"values": [{"k1": 177, "p1": 5.79, "k2": 181, "p2": 6.82}]}, "mark": {"type": "rule", "strokeWidth": 2, "stroke": "#2C8DF0", "clip": true},
 "encoding": {"x": {"field": "k1", "type": "quantitative", "scale": {"domain": [-0.53, 190.28], "nice": false, "zero": false}, "axis": null}, "x2": {"field": "k2"},
  "y": {"field": "p1", "type": "quantitative", "scale": {"domain": [4.025, 8.573], "nice": false, "zero": false}, "axis": null}, "y2": {"field": "p2"}}},
{"data": {"name": "clines"}, "mark": {"type": "rule", "strokeWidth": 1, "strokeDash": [3, 2], "stroke": "#2E78F0", "clip": true},
 "encoding": {"x": {"field": "k1", "type": "quantitative", "scale": {"domain": [-0.53, 190.28], "nice": false, "zero": false}, "axis": null}, "x2": {"field": "k2"},
  "y": {"field": "p", "type": "quantitative", "scale": {"domain": [4.025, 8.573], "nice": false, "zero": false}, "axis": null}}},
{"data": {"name": "marks"}, "mark": {"type": "point", "shape": "square", "filled": true, "size": 40, "color": "#E8A45C", "opacity": 1, "clip": true},
 "encoding": {"x": {"field": "k", "type": "quantitative", "scale": {"domain": [-0.53, 190.28], "nice": false, "zero": false}, "axis": null},
  "y": {"field": "p", "type": "quantitative", "scale": {"domain": [4.025, 8.573], "nice": false, "zero": false}, "axis": null}}},
{"data": {"name": "piv"}, "transform": [{"filter": "datum.kind == 'hi'"}], "mark": {"type": "text", "align": "left", "baseline": "bottom", "dx": -1, "dy": -1, "fontSize": 7.5, "font": "Liberation Sans", "fill": "#D25A5A", "clip": true},
 "encoding": {"x": {"field": "k", "type": "quantitative", "scale": {"domain": [-0.53, 190.28], "nice": false, "zero": false}, "axis": null},
  "y": {"field": "p", "type": "quantitative", "scale": {"domain": [4.025, 8.573], "nice": false, "zero": false}, "axis": null}, "text": {"field": "txt"}}},
{"data": {"name": "piv"}, "transform": [{"filter": "datum.kind == 'lo'"}], "mark": {"type": "text", "align": "left", "baseline": "top", "dx": -1, "dy": 2, "fontSize": 7.5, "font": "Liberation Sans", "fill": "#20B4B4", "clip": true},
 "encoding": {"x": {"field": "k", "type": "quantitative", "scale": {"domain": [-0.53, 190.28], "nice": false, "zero": false}, "axis": null},
  "y": {"field": "p", "type": "quantitative", "scale": {"domain": [4.025, 8.573], "nice": false, "zero": false}, "axis": null}, "text": {"field": "txt"}}},
{"data": {"values": [{"k": 5, "p": 8.53, "txt": "8.53"}, {"k": 124, "p": 4.24, "txt": "4.24"}]}, "mark": {"type": "text", "align": "left", "baseline": "middle", "dx": 7, "dy": 2, "fontSize": 7.5, "font": "Liberation Sans", "fill": "#A8A8A8", "clip": true},
 "encoding": {"x": {"field": "k", "type": "quantitative", "scale": {"domain": [-0.53, 190.28], "nice": false, "zero": false}, "axis": null},
  "y": {"field": "p", "type": "quantitative", "scale": {"domain": [4.025, 8.573], "nice": false, "zero": false}, "axis": null}, "text": {"field": "txt"}}},
{"data": {"name": "ann"}, "mark": {"type": "text", "align": "left", "baseline": "middle", "fontSize": 8.5, "font": "Noto Sans CJK SC", "clip": true},
 "encoding": {"x": {"field": "k", "type": "quantitative", "scale": {"domain": [-0.53, 190.28], "nice": false, "zero": false}, "axis": null},
  "y": {"field": "p", "type": "quantitative", "scale": {"domain": [4.025, 8.573], "nice": false, "zero": false}, "axis": null}, "text": {"field": "txt"},
  "fill": {"field": "kind", "type": "nominal", "scale": {"domain": ["hi", "buy", "lo"], "range": ["#E63232", "#D2D2D2", "#1EAA1E"]}, "legend": null}}},
{"data": {"name": "one"}, "mark": {"type": "text", "align": "left", "baseline": "middle", "fontSize": 6.5, "font": "Noto Sans CJK SC", "fill": "#9A9A9A", "clip": true},
 "encoding": {"x": {"datum": -0.2, "type": "quantitative", "scale": {"domain": [-0.53, 190.28], "nice": false, "zero": false}, "axis": null},
  "y": {"datum": 4.18, "type": "quantitative", "scale": {"domain": [4.025, 8.573], "nice": false, "zero": false}, "axis": null}, "text": {"value": "周期未来数据"}}},
{"data": {"values": [{"k": 166.2, "n": "a"}, {"k": 170.6, "n": "b"}, {"k": 171.8, "n": "c"}, {"k": 176.2, "n": "d"}]}, "mark": {"type": "point", "shape": "square", "filled": true, "size": 70, "opacity": 1, "clip": true},
 "encoding": {"x": {"field": "k", "type": "quantitative", "scale": {"domain": [-0.53, 190.28], "nice": false, "zero": false}, "axis": null},
  "y": {"datum": 4.08, "type": "quantitative", "scale": {"domain": [4.025, 8.573], "nice": false, "zero": false}, "axis": null},
  "color": {"field": "n", "type": "nominal", "scale": {"domain": ["a", "b", "c", "d"], "range": ["#1E8C1E", "#B43C3C", "#B4783C", "#3C5A8C"]}, "legend": null}}},
{"data": {"values": [{"k": 166.2, "txt": "跌"}, {"k": 171.2, "txt": "涨幅"}, {"k": 176.2, "txt": "时"}]}, "mark": {"type": "text", "align": "center", "baseline": "middle", "fontSize": 7, "font": "Noto Sans CJK SC", "fill": "#E6E6E6", "clip": true},
 "encoding": {"x": {"field": "k", "type": "quantitative", "scale": {"domain": [-0.53, 190.28], "nice": false, "zero": false}, "axis": null},
  "y": {"datum": 4.08, "type": "quantitative", "scale": {"domain": [4.025, 8.573], "nice": false, "zero": false}, "axis": null}, "text": {"field": "txt"}}}
]
},
{
"width": 1080, "height": 206,
"resolve": {"scale": {"fill": "independent", "stroke": "independent", "color": "independent"}},
"layer": [
{"data": {"name": "hist"}, "mark": {"type": "bar", "size": 3, "clip": true},
 "encoding": {"x": {"field": "k", "type": "quantitative", "scale": {"domain": [-0.53, 190.28], "nice": false, "zero": false}, "axis": null},
  "y": {"field": "v", "type": "quantitative", "scale": {"domain": [-19.6, 46.5], "nice": false, "zero": false}, "axis": {"values": [-10, 0, 10, 20, 30, 40], "grid": true, "gridDash": [1, 3], "gridColor": "#8B0000", "gridWidth": 1, "labels": false, "ticks": false, "domain": false, "title": null, "minExtent": 0, "maxExtent": 0}},
  "y2": {"datum": 0},
  "fill": {"field": "hc", "type": "nominal", "scale": {"domain": ["o", "y", "c", "p"], "range": ["#FF5A0A", "#FFFF14", "#50E6F0", "#B450F5"]}, "legend": null}}},
{"data": {"name": "boxes"}, "mark": {"type": "rect", "fill": "#000000", "fillOpacity": 0, "stroke": "#0E9696", "strokeWidth": 1.2, "clip": true},
 "encoding": {"x": {"field": "k1", "type": "quantitative", "scale": {"domain": [-0.53, 190.28], "nice": false, "zero": false}, "axis": null}, "x2": {"field": "k2"},
  "y": {"datum": -4.3, "type": "quantitative", "scale": {"domain": [-19.6, 46.5], "nice": false, "zero": false}, "axis": null}, "y2": {"datum": 3.9}}},
{"data": {"name": "mar"}, "mark": {"type": "line", "stroke": "#8A1848", "strokeWidth": 1, "interpolate": "monotone", "clip": true},
 "encoding": {"x": {"field": "k", "type": "quantitative", "scale": {"domain": [-0.53, 190.28], "nice": false, "zero": false}, "axis": null},
  "y": {"field": "v", "type": "quantitative", "scale": {"domain": [-19.6, 46.5], "nice": false, "zero": false}, "axis": null}}},
{"data": {"name": "pur"}, "mark": {"type": "line", "stroke": "#9A12B0", "strokeWidth": 1.2, "clip": true},
 "encoding": {"x": {"field": "k", "type": "quantitative", "scale": {"domain": [-0.53, 190.28], "nice": false, "zero": false}, "axis": null},
  "y": {"field": "v", "type": "quantitative", "scale": {"domain": [-19.6, 46.5], "nice": false, "zero": false}, "axis": null}}},
{"data": {"name": "red"}, "mark": {"type": "line", "stroke": "#E60000", "strokeWidth": 1.4, "clip": true},
 "encoding": {"x": {"field": "k", "type": "quantitative", "scale": {"domain": [-0.53, 190.28], "nice": false, "zero": false}, "axis": null},
  "y": {"field": "v", "type": "quantitative", "scale": {"domain": [-19.6, 46.5], "nice": false, "zero": false}, "axis": null}}},
{"data": {"name": "cd"}, "mark": {"type": "text", "align": "center", "baseline": "middle", "fontSize": 6, "font": "Noto Sans CJK SC", "fill": "#D2C81E", "clip": true},
 "encoding": {"x": {"field": "k", "type": "quantitative", "scale": {"domain": [-0.53, 190.28], "nice": false, "zero": false}, "axis": null},
  "y": {"datum": 1.2, "type": "quantitative", "scale": {"domain": [-19.6, 46.5], "nice": false, "zero": false}, "axis": null}, "text": {"value": "抄底"}}},
{"data": {"name": "one"}, "mark": {"type": "text", "align": "left", "baseline": "middle", "fontSize": 7, "font": "DejaVu Sans", "fill": "#9A9A9A", "clip": true},
 "encoding": {"x": {"datum": 0.2, "type": "quantitative", "scale": {"domain": [-0.53, 190.28], "nice": false, "zero": false}, "axis": null},
  "y": {"datum": 44.9, "type": "quantitative", "scale": {"domain": [-19.6, 46.5], "nice": false, "zero": false}, "axis": null}, "text": {"value": "⊙"}}},
{"data": {"name": "one"}, "mark": {"type": "text", "align": "left", "baseline": "middle", "fontSize": 6.5, "font": "Liberation Sans", "fill": "#C8C8C8", "clip": true},
 "encoding": {"x": {"datum": 1.5, "type": "quantitative", "scale": {"domain": [-0.53, 190.28], "nice": false, "zero": false}, "axis": null},
  "y": {"datum": 44.9, "type": "quantitative", "scale": {"domain": [-19.6, 46.5], "nice": false, "zero": false}, "axis": null}, "text": {"value": "CHAOZHI"}}},
{"data": {"name": "one"}, "mark": {"type": "text", "align": "left", "baseline": "middle", "fontSize": 6, "font": "Noto Sans CJK SC", "fill": "#FF00FF", "clip": true},
 "encoding": {"x": {"datum": 7.0, "type": "quantitative", "scale": {"domain": [-0.53, 190.28], "nice": false, "zero": false}, "axis": null},
  "y": {"datum": 44.9, "type": "quantitative", "scale": {"domain": [-19.6, 46.5], "nice": false, "zero": false}, "axis": null}, "text": {"value": "底部探针: 0.00"}}},
{"data": {"name": "one"}, "mark": {"type": "text", "align": "left", "baseline": "middle", "fontSize": 6, "font": "Noto Sans CJK SC", "fill": "#E6329A", "clip": true},
 "encoding": {"x": {"datum": 14.8, "type": "quantitative", "scale": {"domain": [-0.53, 190.28], "nice": false, "zero": false}, "axis": null},
  "y": {"datum": 44.9, "type": "quantitative", "scale": {"domain": [-19.6, 46.5], "nice": false, "zero": false}, "axis": null}, "text": {"value": "动量: 7.19"}}},
{"data": {"name": "one"}, "mark": {"type": "text", "align": "left", "baseline": "middle", "fontSize": 6, "font": "Noto Sans CJK SC", "fill": "#E62020", "clip": true},
 "encoding": {"x": {"datum": 20.4, "type": "quantitative", "scale": {"domain": [-0.53, 190.28], "nice": false, "zero": false}, "axis": null},
  "y": {"datum": 44.9, "type": "quantitative", "scale": {"domain": [-19.6, 46.5], "nice": false, "zero": false}, "axis": null}, "text": {"value": "机会: 0.00"}}},
{"data": {"values": [{"k": 121.6, "v": -4.2, "r": "a"}, {"k": 124.6, "v": -8.8, "r": "b"}]}, "mark": {"type": "point", "shape": "circle", "filled": true, "fill": "#FFFFFF", "opacity": 0.42, "clip": true},
 "encoding": {"x": {"field": "k", "type": "quantitative", "scale": {"domain": [-0.53, 190.28], "nice": false, "zero": false}, "axis": null},
  "y": {"field": "v", "type": "quantitative", "scale": {"domain": [-19.6, 46.5], "nice": false, "zero": false}, "axis": null},
  "size": {"field": "r", "type": "nominal", "scale": {"domain": ["a", "b"], "range": [850, 520]}, "legend": null}}},
{"data": {"name": "one"}, "mark": {"type": "text", "align": "left", "baseline": "middle", "fontSize": 28, "font": "Noto Sans CJK SC", "fill": "#FFFFFF", "opacity": 0.55, "clip": true},
 "encoding": {"x": {"datum": 128.0, "type": "quantitative", "scale": {"domain": [-0.53, 190.28], "nice": false, "zero": false}, "axis": null},
  "y": {"datum": -6.3, "type": "quantitative", "scale": {"domain": [-19.6, 46.5], "nice": false, "zero": false}, "axis": null}, "text": {"value": "公众号 ·"}}},
{"data": {"name": "one"}, "mark": {"type": "text", "align": "left", "baseline": "middle", "fontSize": 29, "font": "Noto Sans", "fill": "#FFFFFF", "opacity": 0.55, "clip": true},
 "encoding": {"x": {"datum": 149.6, "type": "quantitative", "scale": {"domain": [-0.53, 190.28], "nice": false, "zero": false}, "axis": null},
  "y": {"datum": -6.5, "type": "quantitative", "scale": {"domain": [-19.6, 46.5], "nice": false, "zero": false}, "axis": null}, "text": {"value": "lianghuacelue"}}}
]
}
]
}
